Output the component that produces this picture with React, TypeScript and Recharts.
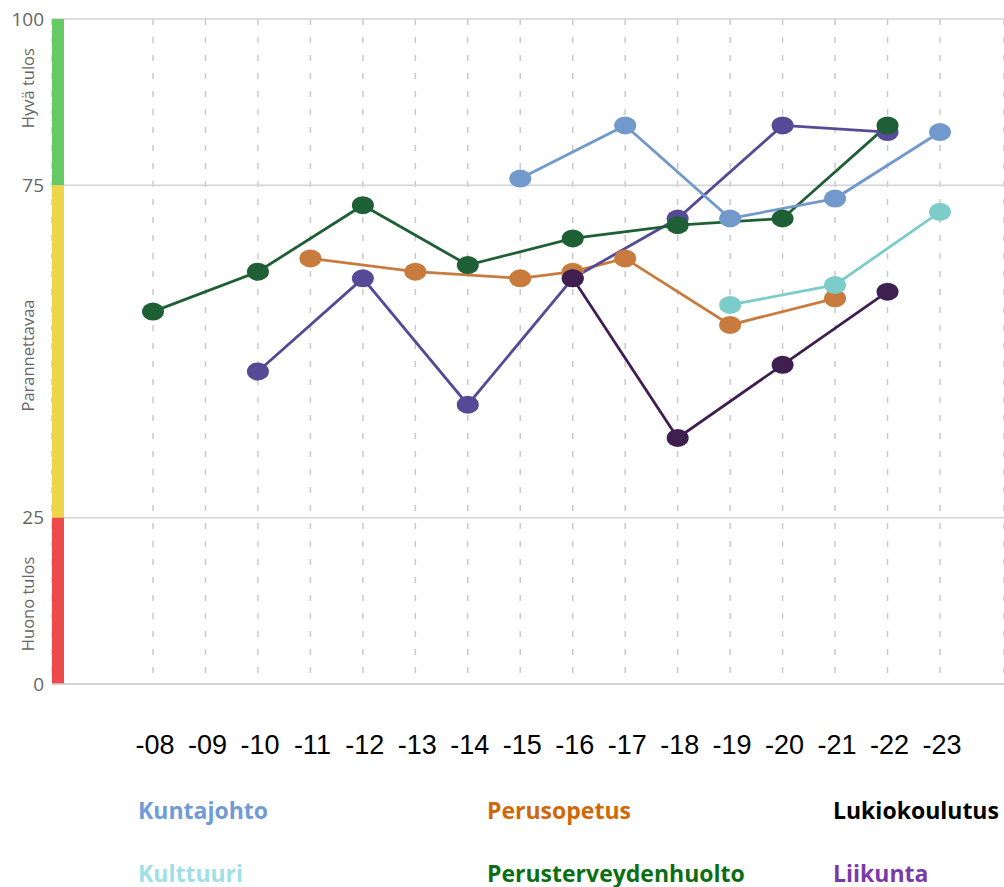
import React from "react";
import {
  LineChart,
  Line,
  XAxis,
  YAxis,
  CartesianGrid,
  ReferenceArea,
} from "recharts";

// years on the x axis
const years = ["-08", "-09", "-10", "-11", "-12", "-13", "-14", "-15", "-16", "-17", "-18", "-19", "-20", "-21", "-22", "-23"];

// series values (null = no result that year)
const kuntajohto = [null, null, null, null, null, null, null, 76, null, 84, null, 70, null, 73, null, 83];
const perusopetus = [null, null, null, 64, null, 62, null, 61, 62, 64, null, 54, null, 58, null, null];
const lukiokoulutus = [null, null, null, null, null, null, null, null, 61, null, 37, null, 48, null, 59, null];
const kulttuuri = [null, null, null, null, null, null, null, null, null, null, null, 57, null, 60, null, 71];
const perusterveydenhuolto = [56, null, 62, null, 72, null, 63, null, 67, null, 69, null, 70, null, 84, null];
const liikunta = [null, null, 47, null, 61, null, 42, null, 61, null, 70, null, 84, null, 83, null];

const yTicks = [0, 25, 75, 100];

// colour bands on the left edge
const bands = [
  { from: 75, to: 100, color: "#66c963", label: "Hyvä tulos", shift: -14 },
  { from: 25, to: 75, color: "#efd54a", label: "Parannettavaa", shift: 4 },
  { from: 0, to: 25, color: "#ee4a4a", label: "Huono tulos", shift: 3 },
];

const series = [
  { key: "perusopetus", name: "Perusopetus", values: perusopetus, color: "#c87b3c" },
  { key: "liikunta", name: "Liikunta", values: liikunta, color: "#564996" },
  { key: "lukiokoulutus", name: "Lukiokoulutus", values: lukiokoulutus, color: "#3f1f50" },
  { key: "perusterveydenhuolto", name: "Perusterveydenhuolto", values: perusterveydenhuolto, color: "#1f5f35" },
  { key: "kulttuuri", name: "Kulttuuri", values: kulttuuri, color: "#7ccdca" },
  { key: "kuntajohto", name: "Kuntajohto", values: kuntajohto, color: "#7199cc" },
];

const legendRows = [
  [
    { name: "Kuntajohto", color: "#6f9bd6" },
    { name: "Perusopetus", color: "#d0680a" },
    { name: "Lukiokoulutus", color: "#000000" },
  ],
  [
    { name: "Kulttuuri", color: "#9fdfe6" },
    { name: "Perusterveydenhuolto", color: "#0b6e12" },
    { name: "Liikunta", color: "#7a3aa8" },
  ],
];

const data = years.map((label, i) => {
  const row: any = { idx: i, label };
  series.forEach((s) => {
    row[s.key] = s.values[i];
  });
  return row;
});

// x domain chosen so the plot runs from the colour bar to the right edge
const xMin = -1.925;
const xMax = 16.22;
const barEnd = xMin + 12 / 52.47;

const EllipseDot = (props: any) => {
  const { cx, cy, value, fill } = props;
  if (value == null || cx == null || cy == null) return null;
  return <ellipse cx={cx} cy={cy} rx={11} ry={9} fill={fill} />;
};

const BandLabel = (text: string, shift: number) => (props: any) => {
  const { viewBox } = props;
  const x = viewBox.x - 25;
  const y = viewBox.y + viewBox.height / 2 + shift;
  return (
    <text
      x={x}
      y={y}
      transform={`rotate(-90, ${x}, ${y})`}
      textAnchor="middle"
      dominantBaseline="central"
      fontFamily="Open Sans"
      fontSize={16.5}
      fill="#666"
    >
      {text}
    </text>
  );
};

const YearTick = (props: any) => {
  const { x, y, payload } = props;
  return (
    <text
      x={x + 2}
      y={y}
      dy={53}
      textAnchor="middle"
      dominantBaseline="central"
      fontFamily="Liberation Sans"
      fontSize={27}
      fill="#000"
    >
      {years[payload.value]}
    </text>
  );
};

export default function App() {
  return (
    <div style={{ position: "absolute", left: 0, top: 0, width: 1004, height: 887, background: "#fff" }}>
      <LineChart
        width={1004}
        height={770}
        data={data}
        margin={{ top: 19, right: 0, left: 0, bottom: 0 }}
      >
        <CartesianGrid horizontal={false} stroke="#c9c9c9" strokeWidth={1.5} strokeDasharray="6 12" />
        <CartesianGrid vertical={false} stroke="#d4d4d4" strokeWidth={1.5} />
        <XAxis
          dataKey="idx"
          type="number"
          domain={[xMin, xMax]}
          ticks={years.map((_, i) => i)}
          allowDataOverflow
          height={86}
          tickLine={false}
          axisLine={{ stroke: "#cfcfcf", strokeWidth: 1.5 }}
          tick={<YearTick />}
          interval={0}
        />
        <YAxis
          width={52}
          domain={[0, 100]}
          ticks={yTicks}
          axisLine={false}
          tickLine={false}
          tick={{ fill: "#666", fontSize: 19, fontFamily: "Open Sans" }}
        />
        {bands.map((b) => (
          <ReferenceArea
            key={b.label}
            x1={xMin}
            x2={barEnd}
            y1={b.from}
            y2={b.to}
            fill={b.color}
            fillOpacity={1}
            stroke="none"
            ifOverflow="visible"
            label={BandLabel(b.label, b.shift)}
          />
        ))}
        {series.map((s) => (
          <Line
            key={s.key}
            dataKey={s.key}
            name={s.name}
            type="linear"
            stroke={s.color}
            strokeWidth={2.8}
            connectNulls
            dot={<EllipseDot fill={s.color} />}
            activeDot={false}
            isAnimationActive={false}
          />
        ))}
      </LineChart>
      {legendRows.map((row, r) =>
        row.map((item, c) => (
          <div
            key={item.name}
            style={{
              position: "absolute",
              left: [138, 487, 833][c],
              top: [794, 857][r],
              fontFamily: "Open Sans",
              fontWeight: 700,
              fontSize: 23,
              color: item.color,
              whiteSpace: "nowrap",
            }}
          >
            {item.name}
          </div>
        ))
      )}
    </div>
  );
}
